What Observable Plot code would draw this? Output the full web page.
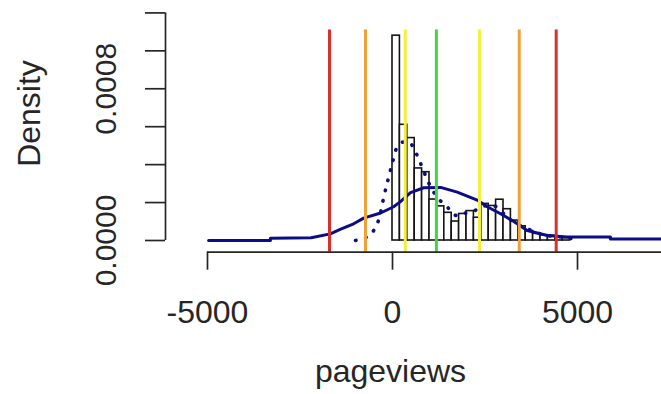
<!DOCTYPE html>
<html>
<head>
<meta charset="utf-8">
<script src="https://cdn.jsdelivr.net/npm/d3@7"></script>
<script src="https://cdn.jsdelivr.net/npm/@observablehq/plot@0.6"></script>
<style>
  html, body { margin: 0; padding: 0; background: #fff; }
  #chart { width: 661px; height: 394px; overflow: hidden; }
</style>
</head>
<body>
<div id="chart"></div>
<script>
// Histogram bins (pageviews, width 200) and their densities
const binWidth = 200;
const binStarts = [0, 200, 400, 600, 800, 1000, 1200, 1400, 1600, 1800, 2000, 2200,
  2400, 2600, 2800, 3000, 3200, 3400, 3600, 3800, 4000, 4200, 4400, 4600];
const binDensity = [0.00108, 0.00061, 0.00054, 0.00038, 0.00036, 0.000216, 0.00018, 0.000146,
  0.0001, 0.00014, 0.000155, 0.00012, 0.000193, 0.000182, 0.000215, 0.000165, 0.000105,
  0.000075, 0.00005, 0.000035, 0.000028, 0.000025, 0.000018, 0.000012];

// Fitted normal curve (solid)
const normX = [-4970, -3300, -3300, -2200, -1680, -1400, -1050, -780, -320, 30, 216, 486, 846,
  1300, 1750, 2290, 2560, 2920, 3280, 3640, 4180, 4720, 5890, 5890, 7300];
const normY = [0, 0, 0.000012, 0.000014, 0.000035, 0.00006, 0.000088, 0.000118, 0.000145, 0.000178,
  0.000205, 0.000252, 0.000278, 0.00028, 0.000255, 0.000213, 0.000178, 0.000141, 0.0001,
  0.000053, 0.000026, 0.000019, 0.000019, 0.000008, 0.000008];

// Kernel density (dotted)
const kdeX = [-1000, -640, -414, -216, -100, 0, 127, 300, 486, 668, 846, 1027, 1251, 1478, 1614,
  1749, 1838, 2108, 2559, 2830, 3008, 3278, 3641, 4000, 4359, 4630, 4950];
const kdeY = [0, 0.000024, 0.000088, 0.000246, 0.000336, 0.000411, 0.000492, 0.00052, 0.000511,
  0.000448, 0.000364, 0.000285, 0.000218, 0.000178, 0.000141, 0.000132, 0.000141, 0.000149,
  0.000185, 0.000176, 0.000141, 0.000096, 0.000062, 0.000035, 0.000021, 0.000017, 0.000005];

// Reference lines (median / mean ± k·sd)
const refX = [-1703, -730, 345, 1186, 2351, 3425, 4424];
const refColor = ["#d8302c", "#eda238", "#f4ee3e", "#44d444", "#f4ee3e", "#eda238", "#d8302c"];
const refTop = 0.00111;

// Axes
const xTicks = [-5000, 0, 5000, 10000];
const yTicks = [0, 0.0002, 0.0004, 0.0006, 0.0008, 0.001, 0.0012];
const yLabels = [0, 0.0008];
const yLabelText = ["0.0000", "0.0008"];
const xTitle = "pageviews";
const yTitle = "Density";

const xDomain = [-6135, 7270];
const yDomain = [-0.0000617, 0.0012];

const hist = binStarts.map((s, i) => ({x0: s, x1: s + binWidth, d: binDensity[i]}));
const norm = normX.map((x, i) => ({x, y: normY[i]}));
const kde = kdeX.map((x, i) => ({x, y: kdeY[i]}));
const refs = refX.map((x, i) => ({x, c: refColor[i]}));
const yLab = yLabels.map((v, i) => ({v, t: yLabelText[i]}));

const ink = "#262626";
const navy = "#0c0c86";

const chart = Plot.plot({
  width: 661,
  height: 394,
  marginLeft: 165,
  marginRight: 0,
  marginTop: 12.4,
  marginBottom: 142.3,
  x: {domain: xDomain},
  y: {domain: yDomain},
  color: {type: "identity"},
  style: {fontFamily: "'Liberation Sans', Arial, sans-serif", background: "#fff", color: ink, overflow: "visible"},
  marks: [
    Plot.rectY(hist, {x1: "x0", x2: "x1", y: "d", fill: "#fff", stroke: "#151515", strokeWidth: 1.6}),
    Plot.line(norm, {x: "x", y: "y", stroke: navy, strokeWidth: 3, curve: "linear"}),
    Plot.line(kde, {x: "x", y: "y", stroke: navy, strokeWidth: 3.6, strokeDasharray: "0.5,10", strokeLinecap: "round", curve: "catmull-rom"}),
    Plot.ruleX(refs, {x: "x", y1: yDomain[0], y2: refTop, stroke: "c", strokeWidth: 3}),
    // axis lines
    Plot.ruleY([yDomain[0]], {x1: xTicks[0], x2: xDomain[1], stroke: ink, strokeWidth: 1.7}),
    Plot.ruleX([xDomain[0]], {y1: yTicks[0], y2: yTicks[yTicks.length - 1], stroke: ink, strokeWidth: 1.7}),
    Plot.axisX({ticks: xTicks.filter(t => t <= xDomain[1]), tickSize: 18, tickPadding: 30, fontSize: 32,
      tickFormat: d => String(d), label: null, stroke: ink, strokeWidth: 1.7}),
    Plot.axisY({ticks: yTicks, tickSize: 20, tickFormat: () => "", label: null, stroke: ink, strokeWidth: 1.7}),
    Plot.text(yLab, {y: "v", text: "t", frameAnchor: "left", textAnchor: "middle", lineAnchor: "middle",
      dx: -59.5, rotate: -90, fontSize: 30, fill: ink}),
    Plot.text([yTitle], {text: d => d, frameAnchor: "top-left", textAnchor: "middle", lineAnchor: "middle",
      dx: -136, dy: 100.6, rotate: -90, fontSize: 32, fill: ink}),
    Plot.text([xTitle], {text: d => d, frameAnchor: "bottom-left", textAnchor: "middle", lineAnchor: "middle",
      dx: 225, dy: 119.5, fontSize: 32, fill: ink})
  ]
});
document.getElementById("chart").appendChild(chart);
</script>
</body>
</html>
